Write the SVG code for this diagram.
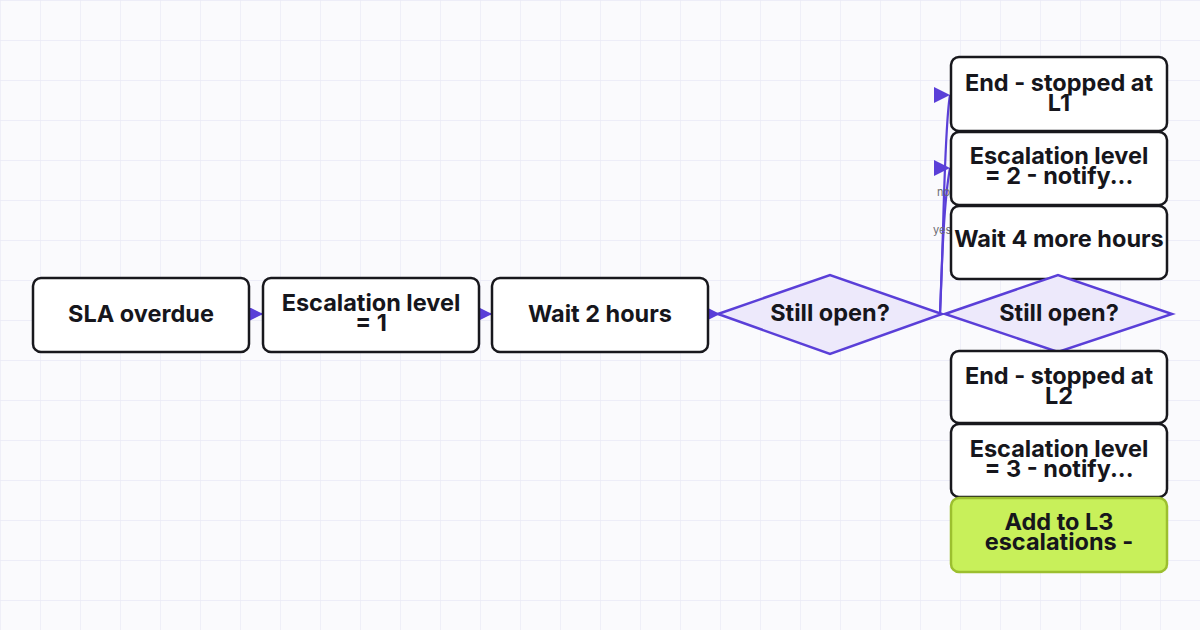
<svg xmlns="http://www.w3.org/2000/svg" width="1200" height="630" viewBox="0 0 1200 630">
<defs>
<pattern id="grid" width="40" height="40" patternUnits="userSpaceOnUse">
<path d="M40 0H0V40" fill="none" stroke="#e9e9f6" stroke-width="1.3"/>
</pattern>
<marker id="arr" viewBox="0 0 10 10" refX="10" refY="5" markerWidth="13" markerHeight="13" markerUnits="userSpaceOnUse" orient="auto">
<path d="M0 0L10 5L0 10Z" fill="#5a3fd8"/>
</marker>
<marker id="arrL" viewBox="0 0 10 10" refX="10" refY="5" markerWidth="16" markerHeight="16" markerUnits="userSpaceOnUse" orient="0">
<path d="M0 0L10 5L0 10Z" fill="#5a3fd8"/>
</marker>
</defs>
<style>
.box{fill:#ffffff;stroke:#18181d;stroke-width:2.5}
.green{fill:#c8f05a;stroke:#9cbf2f;stroke-width:2.5}
.dia{fill:#ede9fb;stroke:#5a3fd8;stroke-width:2.5}
.t{font-family:Inter,"Liberation Sans",sans-serif;font-weight:700;font-size:23.5px;fill:#16161c;text-anchor:middle}
.edge{fill:none;stroke:#5a3fd8;stroke-width:2.2}
.lbl{font-family:Inter,"Liberation Sans",sans-serif;font-size:11px;fill:#6a6a72}
</style>
<rect width="1200" height="630" fill="#fafafd"/>
<rect width="1200" height="630" fill="url(#grid)"/>

<g id="connectors">
<line class="edge" x1="249" y1="314" x2="263" y2="314" marker-end="url(#arr)"/>
<line class="edge" x1="479" y1="314" x2="492" y2="314" marker-end="url(#arr)"/>
<line class="edge" x1="708" y1="314" x2="720" y2="314" marker-end="url(#arr)"/>
<path class="edge" d="M940 314C944 230 944 130 950 95" marker-end="url(#arrL)"/>
<path class="edge" d="M940 314C942 260 944 200 950 168" marker-end="url(#arrL)"/>
<text class="lbl" x="937" y="196">no</text>
<text class="lbl" x="933" y="234">yes</text>
</g>

<g id="n1"><rect class="box" x="33" y="278" width="216" height="74" rx="8"/><text class="t" x="141" y="322">SLA overdue</text></g>
<g id="n2"><rect class="box" x="263" y="278" width="216" height="74" rx="8"/><text class="t" x="371" y="311">Escalation level</text><text class="t" x="371" y="331">= 1</text></g>
<g id="n3"><rect class="box" x="492" y="278" width="216" height="74" rx="8"/><text class="t" x="600" y="322">Wait 2 hours</text></g>
<g id="d1"><polygon class="dia" points="718,314 830,275 942,314 830,354"/><text class="t" x="830" y="321">Still open?</text></g>

<g id="n4"><rect class="box" x="951" y="57" width="216" height="74" rx="8"/><text class="t" x="1059" y="91">End - stopped at</text><text class="t" x="1059" y="111">L1</text></g>
<g id="n5"><rect class="box" x="951" y="132" width="216" height="73" rx="8"/><text class="t" x="1059" y="164">Escalation level</text><text class="t" x="1059" y="184">= 2 - notify...</text></g>
<g id="n6"><rect class="box" x="951" y="206" width="216" height="73" rx="8"/><text class="t" x="1059" y="247">Wait 4 more hours</text></g>
<g id="d2"><polygon class="dia" points="945,314 1058,275 1172,314 1058,352"/><text class="t" x="1059" y="321">Still open?</text></g>
<g id="n7"><rect class="box" x="951" y="351" width="216" height="72" rx="8"/><text class="t" x="1059" y="384">End - stopped at</text><text class="t" x="1059" y="404">L2</text></g>
<g id="n8"><rect class="box" x="951" y="424" width="216" height="73" rx="8"/><text class="t" x="1059" y="457">Escalation level</text><text class="t" x="1059" y="477">= 3 - notify...</text></g>
<g id="n9"><rect class="green" x="951" y="498" width="216" height="74" rx="8"/><text class="t" x="1059" y="530">Add to L3</text><text class="t" x="1059" y="550">escalations -</text></g>
</svg>
